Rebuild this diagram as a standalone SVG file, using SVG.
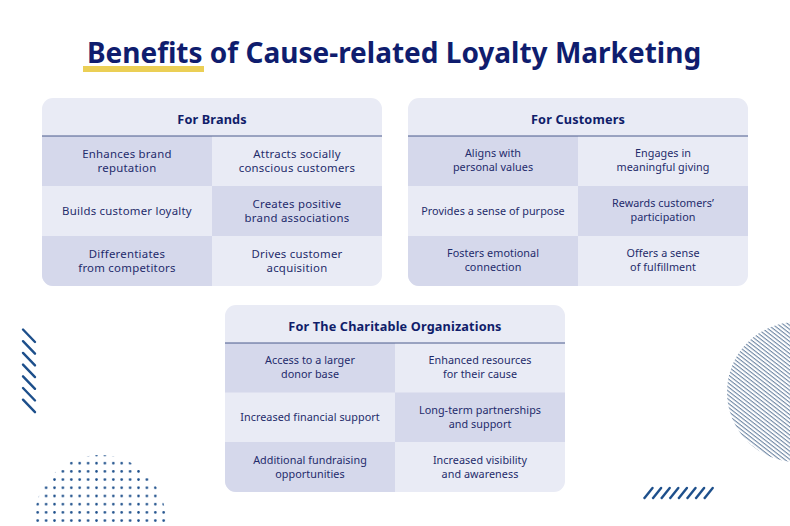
<svg xmlns="http://www.w3.org/2000/svg" width="790" height="526" viewBox="0 0 790 526">
<style>
.title{font-family:"Noto Sans","Liberation Sans",sans-serif;font-weight:700;font-size:28px;fill:#0f1d6e}
.hd{font-family:"Noto Sans","Liberation Sans",sans-serif;font-weight:700;font-size:12.7px;letter-spacing:0.15px;fill:#101d6a;text-anchor:middle}
.ct{font-family:"Noto Sans","Liberation Sans",sans-serif;font-size:11.4px;letter-spacing:0.25px;fill:#1f2b6b;text-anchor:middle}
.cs{font-family:"Noto Sans","Liberation Sans",sans-serif;font-size:10.8px;letter-spacing:0.05px;fill:#1f2b6b;text-anchor:middle}
.card{fill:#e9ebf5}
.dk{fill:#d5d8eb}
.sep{stroke:#4b5a8c;stroke-width:1}
.slash{stroke:#1d4f8b;stroke-width:2.4;stroke-linecap:round}
</style>
<defs>
<clipPath id="cb"><rect x="42" y="98" width="340" height="188" rx="11"/></clipPath>
<clipPath id="cc"><rect x="408" y="98" width="340" height="188" rx="11"/></clipPath>
<clipPath id="co"><rect x="225" y="305" width="340" height="187" rx="11"/></clipPath>
<clipPath id="dotclip"><circle cx="100" cy="521" r="66"/></clipPath>
<clipPath id="hatchclip"><circle cx="797" cy="392" r="70"/></clipPath>
<pattern id="dots" patternUnits="userSpaceOnUse" x="33.5" y="450.9" width="8.4" height="8.2">
<circle cx="4.2" cy="4.1" r="1.3" fill="#1d4f8b"/>
</pattern>
<pattern id="hatch" patternUnits="userSpaceOnUse" width="10" height="3.2" patternTransform="rotate(38)">
<rect x="0" y="0" width="10" height="1.1" fill="#7088a5"/>
</pattern>
</defs>
<rect width="790" height="526" fill="#ffffff"/>

<g id="title">
<rect x="83" y="66" width="121" height="6" fill="#ebcf55"/>
<text class="title" x="394" y="63" text-anchor="middle">Benefits of Cause-related Loyalty Marketing</text>
</g>

<g id="for-brands">
<rect class="card" x="42" y="98" width="340" height="188" rx="11"/>
<g clip-path="url(#cb)">
<rect class="dk" x="42" y="136" width="170" height="50"/>
<rect class="dk" x="212" y="186" width="170" height="50"/>
<rect class="dk" x="42" y="236" width="170" height="50"/>
</g>
<line class="sep" x1="42" y1="136" x2="382" y2="136"/>
<text class="hd" x="212" y="124">For Brands</text>
<text class="ct" x="127" y="157.5">Enhances brand</text>
<text class="ct" x="127" y="171.5">reputation</text>
<text class="ct" x="297" y="157.5">Attracts socially</text>
<text class="ct" x="297" y="171.5">conscious customers</text>
<text class="ct" x="127" y="215">Builds customer loyalty</text>
<text class="ct" x="297" y="207.5">Creates positive</text>
<text class="ct" x="297" y="221.5">brand associations</text>
<text class="ct" x="127" y="257.5">Differentiates</text>
<text class="ct" x="127" y="271.5">from competitors</text>
<text class="ct" x="297" y="257.5">Drives customer</text>
<text class="ct" x="297" y="271.5">acquisition</text>
</g>

<g id="for-customers">
<rect class="card" x="408" y="98" width="340" height="188" rx="11"/>
<g clip-path="url(#cc)">
<rect class="dk" x="408" y="136" width="170" height="50"/>
<rect class="dk" x="578" y="186" width="170" height="50"/>
<rect class="dk" x="408" y="236" width="170" height="50"/>
</g>
<line class="sep" x1="408" y1="136" x2="748" y2="136"/>
<text class="hd" x="578" y="124">For Customers</text>
<text class="cs" x="493" y="157">Aligns with</text>
<text class="cs" x="493" y="170.5">personal values</text>
<text class="cs" x="663" y="157">Engages in</text>
<text class="cs" x="663" y="170.5">meaningful giving</text>
<text class="cs" x="493" y="214.5">Provides a sense of purpose</text>
<text class="cs" x="663" y="207">Rewards customers’</text>
<text class="cs" x="663" y="220.5">participation</text>
<text class="cs" x="493" y="257">Fosters emotional</text>
<text class="cs" x="493" y="270.5">connection</text>
<text class="cs" x="663" y="257">Offers a sense</text>
<text class="cs" x="663" y="270.5">of fulfillment</text>
</g>

<g id="for-charitable-organizations">
<rect class="card" x="225" y="305" width="340" height="187" rx="11"/>
<g clip-path="url(#co)">
<rect class="dk" x="225" y="343" width="170" height="49.5"/>
<rect class="dk" x="395" y="392.5" width="170" height="49.5"/>
<rect class="dk" x="225" y="442" width="170" height="50"/>
</g>
<line class="sep" x1="225" y1="343" x2="565" y2="343"/>
<text class="hd" x="395" y="331">For The Charitable Organizations</text>
<text class="cs" x="310" y="364">Access to a larger</text>
<text class="cs" x="310" y="377.5">donor base</text>
<text class="cs" x="480" y="364">Enhanced resources</text>
<text class="cs" x="480" y="377.5">for their cause</text>
<text class="cs" x="310" y="421">Increased financial support</text>
<text class="cs" x="480" y="414">Long-term partnerships</text>
<text class="cs" x="480" y="427.5">and support</text>
<text class="cs" x="310" y="464">Additional fundraising</text>
<text class="cs" x="310" y="477.5">opportunities</text>
<text class="cs" x="480" y="464">Increased visibility</text>
<text class="cs" x="480" y="477.5">and awareness</text>
</g>

<g id="connectors"></g>

<g id="decor-left-slashes">
<line class="slash" x1="23" y1="329.5" x2="35" y2="342"/>
<line class="slash" x1="23" y1="341.2" x2="35" y2="353.7"/>
<line class="slash" x1="23" y1="352.9" x2="35" y2="365.4"/>
<line class="slash" x1="23" y1="364.6" x2="35" y2="377.1"/>
<line class="slash" x1="23" y1="376.3" x2="35" y2="388.8"/>
<line class="slash" x1="23" y1="388" x2="35" y2="400.5"/>
<line class="slash" x1="23" y1="399.7" x2="35" y2="412.2"/>
</g>

<g id="decor-dots">
<rect x="30" y="450" width="140" height="76" fill="url(#dots)" clip-path="url(#dotclip)"/>
</g>

<g id="decor-hatch-circle">
<rect x="720" y="315" width="70" height="155" fill="url(#hatch)" clip-path="url(#hatchclip)"/>
</g>

<g id="decor-bottom-slashes">
<line class="slash" x1="644.5" y1="498" x2="652.5" y2="488"/>
<line class="slash" x1="653.1" y1="498" x2="661.1" y2="488"/>
<line class="slash" x1="661.7" y1="498" x2="669.7" y2="488"/>
<line class="slash" x1="670.3" y1="498" x2="678.3" y2="488"/>
<line class="slash" x1="678.9" y1="498" x2="686.9" y2="488"/>
<line class="slash" x1="687.5" y1="498" x2="695.5" y2="488"/>
<line class="slash" x1="696.1" y1="498" x2="704.1" y2="488"/>
<line class="slash" x1="704.7" y1="498" x2="712.7" y2="488"/>
</g>
</svg>
